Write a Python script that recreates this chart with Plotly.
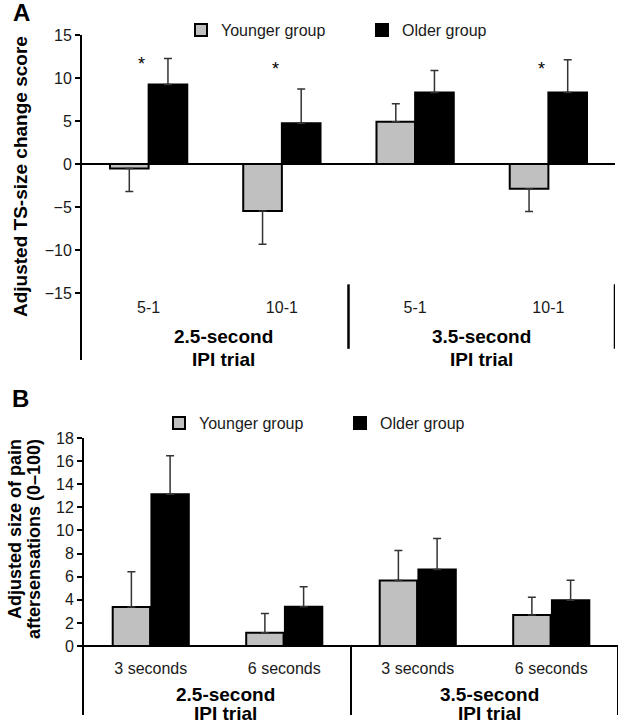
import plotly.graph_objects as go

# ---------------- data ----------------
series = ["Younger group", "Older group"]
group_labels = ["2.5-second<br>IPI trial", "3.5-second<br>IPI trial"]

categories_A = ["5-1", "10-1", "5-1", "10-1"]
younger_A = [-0.54, -5.48, 4.90, -2.88]
younger_A_err = [2.65, 3.85, 2.10, 2.64]
older_A = [9.25, 4.74, 8.32, 8.32]
older_A_err = [3.03, 3.97, 2.56, 3.81]
star_A = [12.2, 11.6, None, 11.6]   # level of significance asterisks
ticks_A = [-15, -10, -5, 0, 5, 10, 15]

categories_B = ["3 seconds", "6 seconds", "3 seconds", "6 seconds"]
younger_B = [3.37, 1.15, 5.67, 2.68]
younger_B_err = [3.05, 1.67, 2.60, 1.55]
older_B = [13.13, 3.40, 6.62, 3.97]
older_B_err = [3.34, 1.73, 2.68, 1.73]
ticks_B = [0, 2, 4, 6, 8, 10, 12, 14, 16, 18]

# ---------------- styling ----------------
W, H = 624, 725
FONT = "Liberation Sans, Arial, sans-serif"
GRAY = "#c0c0c0"
BLACK = "#000000"
TXT = "#1a1a1a"


def fx(px):
    return px / W


def fy(px):
    return 1 - px / H


def one_sided(vals, errs):
    plus = [e if v >= 0 else 0 for v, e in zip(vals, errs)]
    minus = [e if v < 0 else 0 for v, e in zip(vals, errs)]
    return plus, minus


def err_dict(vals, errs):
    p, m = one_sided(vals, errs)
    return dict(type="data", symmetric=False, array=p, arrayminus=m,
                color="#333333", thickness=1.5, width=4)


xpos = list(range(len(categories_A)))

fig = go.Figure()

# Panel A
fig.add_trace(go.Bar(x=xpos, y=younger_A, name=series[0], marker_color=GRAY,
                     marker_line=dict(color=BLACK, width=2),
                     error_y=err_dict(younger_A, younger_A_err),
                     xaxis="x", yaxis="y", legend="legend"))
fig.add_trace(go.Bar(x=xpos, y=older_A, name=series[1], marker_color=BLACK,
                     marker_line=dict(color=BLACK, width=2),
                     error_y=err_dict(older_A, older_A_err),
                     xaxis="x", yaxis="y", legend="legend"))
# Panel B
fig.add_trace(go.Bar(x=xpos, y=younger_B, name=series[0], marker_color=GRAY,
                     marker_line=dict(color=BLACK, width=2),
                     error_y=err_dict(younger_B, younger_B_err),
                     xaxis="x2", yaxis="y2", legend="legend2"))
fig.add_trace(go.Bar(x=xpos, y=older_B, name=series[1], marker_color=BLACK,
                     marker_line=dict(color=BLACK, width=2),
                     error_y=err_dict(older_B, older_B_err),
                     xaxis="x2", yaxis="y2", legend="legend2"))

yA_bottom = -22.8
yB_bottom = -5.97

common_y = dict(showgrid=False, showline=True, linecolor=BLACK, linewidth=2,
                ticks="outside", ticklen=5, tickwidth=2, tickcolor=BLACK,
                zeroline=True, zerolinecolor=BLACK, zerolinewidth=2, automargin=False,
                tickfont=dict(size=16, color=TXT, family=FONT))
common_x = dict(range=[-0.5, 3.5], showgrid=False, showline=False, zeroline=False,
                ticks="", tickfont=dict(size=16, color=TXT, family=FONT),
                anchor="free", automargin=False)

fig.update_layout(
    template="none",
    width=W, height=H,
    margin=dict(l=0, r=0, t=0, b=0, pad=0, autoexpand=False),
    paper_bgcolor="white", plot_bgcolor="white",
    font=dict(family=FONT, color=TXT),
    barmode="group",
    bargap=0.42,
    xaxis=dict(domain=[fx(82), fx(615)], position=fy(296),
               tickvals=xpos, ticktext=categories_A, **common_x),
    yaxis=dict(domain=[fy(360), fy(35)], range=[yA_bottom, 15], anchor="x",
               tickvals=ticks_A, **common_y),
    xaxis2=dict(domain=[fx(84), fx(618)], position=fy(657),
                tickvals=xpos, ticktext=categories_B, **common_x),
    yaxis2=dict(domain=[fy(715), fy(438)], range=[yB_bottom, 18], anchor="x2",
                tickvals=ticks_B, **common_y),
    legend=dict(orientation="h", x=fx(181), y=fy(30), xanchor="left", yanchor="middle",
                font=dict(size=16, color=TXT, family=FONT), bgcolor="rgba(0,0,0,0)",
                entrywidth=136, traceorder="normal"),
    legend2=dict(orientation="h", x=fx(159), y=fy(423), xanchor="left", yanchor="middle",
                 font=dict(size=16, color=TXT, family=FONT), bgcolor="rgba(0,0,0,0)",
                 entrywidth=136, traceorder="normal"),
)

shapes = []
# Panel A group dividers
for xv in [1.5, 3.5]:
    shapes.append(dict(type="line", xref="x", yref="y", x0=xv, x1=xv, y0=-14.0, y1=-21.5,
                       line=dict(color=BLACK, width=2.5)))
# Panel B group dividers / box
for xv in [1.5, 3.5]:
    shapes.append(dict(type="line", xref="x2", yref="y2", x0=xv, x1=xv, y0=0, y1=yB_bottom,
                       line=dict(color=BLACK, width=2)))
fig.update_layout(shapes=shapes)

C = dict(xanchor="center", yanchor="middle", showarrow=False)
ann = []
# significance stars
for i, s in enumerate(star_A):
    if s is not None:
        ann.append(dict(x=i - 0.05, y=s, xref="x", yref="y", text="*", yshift=-5,
                        font=dict(size=18, color=BLACK, family=FONT), **C))
# group labels (two lines each)
line_px_A = [336, 359]
line_px_B = [694, 713]
for gi, g in enumerate(group_labels):
    for li, line in enumerate(g.split("<br>")):
        ann.append(dict(x=0.5 + 2 * gi, y=fy(line_px_A[li]), xref="x", yref="paper",
                        text="<b>%s</b>" % line, xshift=8 if gi == 0 else 0,
                        font=dict(size=19, color=BLACK, family=FONT), **C))
        ann.append(dict(x=0.5 + 2 * gi, y=fy(line_px_B[li]), xref="x2", yref="paper",
                        text="<b>%s</b>" % line, xshift=8 if gi == 0 else 5,
                        font=dict(size=19, color=BLACK, family=FONT), **C))
# axis titles
ann.append(dict(x=fx(20), y=fy(177), xref="paper", yref="paper", textangle=-90,
                text="<b>Adjusted TS-size change score</b>",
                font=dict(size=19, color=BLACK, family=FONT), **C))
ann.append(dict(x=fx(15), y=fy(437), xref="paper", yref="paper", textangle=-90,
                xanchor="center", yanchor="top", showarrow=False,
                text="<b>Adjusted size of pain</b>",
                font=dict(size=18, color=BLACK, family=FONT)))
ann.append(dict(x=fx(34), y=fy(437), xref="paper", yref="paper", textangle=-90,
                xanchor="center", yanchor="top", showarrow=False,
                text="<b>aftersensations (0\u2013100)</b>",
                font=dict(size=18, color=BLACK, family=FONT)))
# panel letters
ann.append(dict(x=fx(21), y=fy(13), xref="paper", yref="paper", text="<b>A</b>",
                font=dict(size=24, color=BLACK, family=FONT), **C))
ann.append(dict(x=fx(20), y=fy(399), xref="paper", yref="paper", text="<b>B</b>",
                font=dict(size=24, color=BLACK, family=FONT), **C))
fig.update_layout(annotations=ann)

# panel B bars slightly narrower
fig.update_traces(selector=dict(xaxis="x2"), width=0.28)

# remove the default page margin so the 624x725 figure fills the window exactly
fig.write_html("out.html", config={"displayModeBar": False},
               post_script="document.body.style.margin='0';document.body.style.overflow='hidden';")
